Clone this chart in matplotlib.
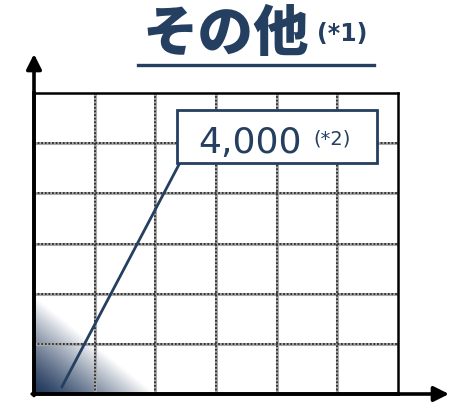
import numpy as np
import matplotlib
matplotlib.use("Agg")
from matplotlib import pyplot as plt
from matplotlib.patches import Rectangle, Polygon
from matplotlib.lines import Line2D
from matplotlib.colors import to_rgb

# chart content
title = "その他"
title_note = "(*1)"
value_label = "4,000"
value_note = "(*2)"
n_cols = 6
n_rows = 6
shade_size = [2.0, 1.95]          # extent of the shaded corner (grid units)
leader_start = [0.45, 0.12]       # anchor of the leader line inside the grid
label_box = [2.36, 4.60, 3.29, 1.06]  # x, y, width, height of the value box

navy = "#243F60"

fig = plt.figure(figsize=(4.49, 4.05), dpi=100)
W, H = 449, 405
ax = fig.add_axes([34 / W, (H - 394) / H, 364 / W, 301 / H])
ax.set_xlim(0, n_cols)
ax.set_ylim(0, n_rows)
ax.set_xticks(np.arange(1, n_cols))
ax.set_yticks(np.arange(1, n_rows))
ax.tick_params(length=0, labelbottom=False, labelleft=False)

# dotted grid: grey solid underlay with dark dots on top
for v in range(1, n_cols):
    ax.axvline(v, color="#a8a8a8", lw=2.2, zorder=2)
    ax.axvline(v, color="#2b2b2b", lw=1.3, ls=(0, (1, 1)), zorder=2.1)
for v in range(1, n_rows):
    ax.axhline(v, color="#a8a8a8", lw=2.2, zorder=2)
    ax.axhline(v, color="#2b2b2b", lw=1.3, ls=(0, (1, 1)), zorder=2.1)

for side in ["top", "right"]:
    ax.spines[side].set_linewidth(1.8)
for side in ["left", "bottom"]:
    ax.spines[side].set_linewidth(2.6)

# shaded corner triangle, dark at the origin fading to white
sx, sy = shade_size
xx, yy = np.meshgrid(np.linspace(0, sx, 200), np.linspace(0, sy, 200))
s = np.clip(xx / sx + yy / sy, 0, 1) ** 1.3
c0 = np.array(to_rgb("#1d3559"))
img = c0[None, None, :] * (1 - s[..., None]) + np.ones(3)[None, None, :] * s[..., None]
im = ax.imshow(img, extent=(0, sx, 0, sy), origin="lower", aspect="auto", zorder=1)
tri = Polygon([[0, 0], [0, sy], [sx, 0]], closed=True, transform=ax.transData)
im.set_clip_path(tri)

# leader line and value box
bx, by, bw, bh = label_box
ax.plot([leader_start[0], bx + 0.05], [leader_start[1], by + 0.02], color=navy, lw=2, zorder=3,
        solid_capstyle="butt")
ax.add_patch(Rectangle((bx, by), bw, bh, facecolor="white", edgecolor=navy, lw=2, zorder=4))
ax.text(2.70, 4.80, value_label, fontsize=26, color=navy, ha="left", va="baseline", zorder=5)
ax.text(4.60, 4.98, value_note, fontsize=14, color=navy, ha="left", va="baseline", zorder=5)

# axis arrows
ax.annotate("", xy=(0, (394 - 54) / 301), xytext=(0, -0.005), xycoords="axes fraction",
            arrowprops=dict(arrowstyle="-|>,head_length=0.9,head_width=0.45", color="black",
                            lw=2.6, shrinkA=0, shrinkB=0), annotation_clip=False)
ax.annotate("", xy=((449 - 34) / 364, 0), xytext=(-0.005, 0), xycoords="axes fraction",
            arrowprops=dict(arrowstyle="-|>,head_length=0.9,head_width=0.45", color="black",
                            lw=2.6, shrinkA=0, shrinkB=0), annotation_clip=False)

# title with underline
fig.text(142 / W, 1 - 34 / H, title, fontsize=40, fontweight="black", color=navy,
         family=["Noto Sans CJK JP", "DejaVu Sans"], ha="left", va="center")
fig.text(317 / W, 1 - 34 / H, title_note, fontsize=17, fontweight="bold", color=navy,
         ha="left", va="center")
fig.add_artist(Line2D([138 / W, 374 / W], [1 - 65 / H, 1 - 65 / H], color=navy, lw=2.4,
                      transform=fig.transFigure))

plt.savefig("out.png", dpi=100)
